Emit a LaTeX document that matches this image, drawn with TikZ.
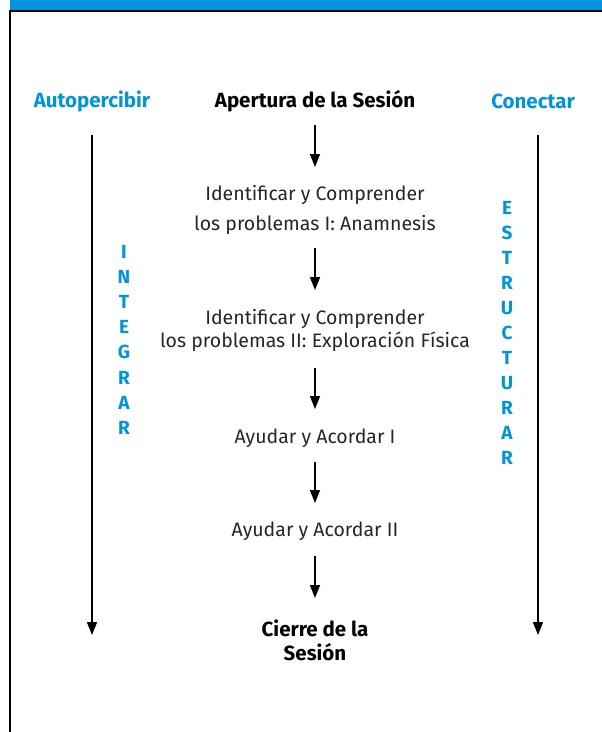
\documentclass[tikz,border=0pt]{standalone}
\usepackage{fontspec}
\setmainfont{Fira Sans}
\usetikzlibrary{arrows.meta}
\definecolor{barblue}{HTML}{0095DA}
\tikzset{
  flow/.style={line width=1.6pt,-{Triangle[width=10pt,length=13pt]}},
  side/.style={line width=1.6pt,-{Triangle[width=10pt,length=13pt]}},
  txt/.style={font=\fontsize{19.5}{23}\selectfont,text=black!85,align=center,inner sep=1pt},
  btxt/.style={font=\fontsize{20.5}{24}\selectfont\bfseries,align=center,inner sep=1pt},
  blu/.style={font=\fontsize{20.5}{24}\selectfont\bfseries,text=barblue,inner sep=1pt},
  let/.style={font=\fontsize{19}{22}\selectfont\bfseries,text=barblue,inner sep=0pt}
}
\begin{document}
\begin{tikzpicture}[x=1pt,y=-1pt]
\useasboundingbox (0,0) rectangle (602,732);
\fill[barblue] (10,0) rectangle (602,11);
\draw[line width=1.4pt] (10,732) -- (10,11) -- (602,11);
% headers
\node[blu] (auto) at (92,101) {Autopercibir};
\node[btxt] (open) at (315,101) {Apertura de la Sesión};
\node[blu] (conn) at (533,101) {Conectar};
% steps
\node[txt,font=\fontsize{19.5}{30}\selectfont] (s1) at (315,210) {Identificar y Comprender\\los problemas I: Anamnesis};
\node[txt] (s2) at (315,330) {Identificar y Comprender\\los problemas II: Exploración Física};
\node[txt] (s3) at (315,438) {Ayudar y Acordar I};
\node[txt] (s4) at (315,531) {Ayudar y Acordar II};
\node[btxt] (s5) at (315,640) {Cierre de la\\Sesión};
% central arrows
\coordinate (a1s) at (315,125); \coordinate (a1e) at (315,167);
\coordinate (a2s) at (315,248); \coordinate (a2e) at (315,290);
\coordinate (a3s) at (315,368); \coordinate (a3e) at (315,409);
\coordinate (a4s) at (315,462); \coordinate (a4e) at (315,503);
\coordinate (a5s) at (315,556); \coordinate (a5e) at (315,598);
\draw[flow] (a1s) -- (a1e);
\draw[flow] (a2s) -- (a2e);
\draw[flow] (a3s) -- (a3e);
\draw[flow] (a4s) -- (a4e);
\draw[flow] (a5s) -- (a5e);
% side arrows
\coordinate (ls) at (92,135); \coordinate (le) at (92,635);
\coordinate (rs) at (538,135); \coordinate (re) at (538,635);
\draw[side] (ls) -- (le);
\draw[side] (rs) -- (re);
% vertical words
\foreach \c [count=\i from 0] in {I,N,T,E,G,R,A,R}
  \node[let] (int\i) at (124,252+25.1*\i) {\c};
\foreach \c [count=\i from 0] in {E,S,T,R,U,C,T,U,R,A,R}
  \node[let] (est\i) at (507,208+25*\i) {\c};
\end{tikzpicture}
\end{document}
